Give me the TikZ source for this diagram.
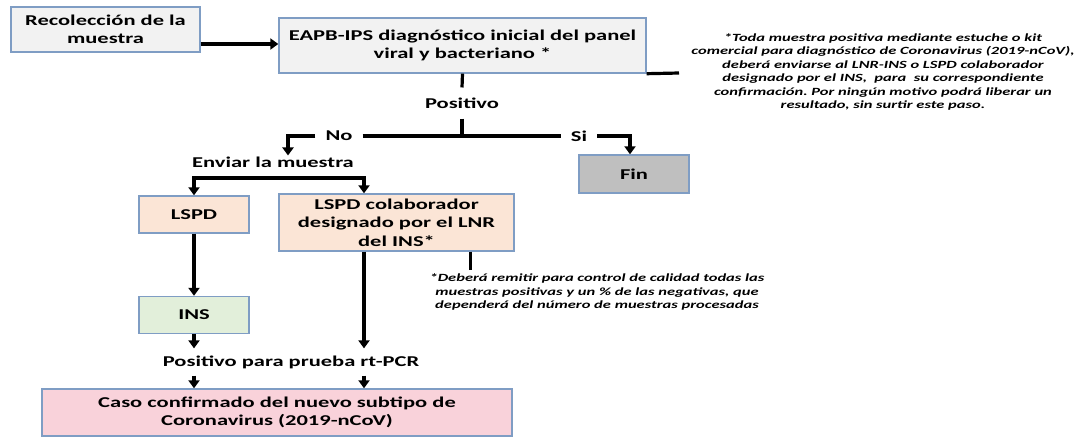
\documentclass[tikz,border=0pt]{standalone}
\usepackage{fontspec}
\setmainfont{Carlito}[FakeStretch=1.5]
\usetikzlibrary{arrows.meta}
\definecolor{boxline}{HTML}{7F9DC4}
\definecolor{grayfill}{HTML}{F2F2F2}
\definecolor{peach}{HTML}{FBE5D6}
\definecolor{mint}{HTML}{E2EFDA}
\definecolor{rose}{HTML}{F9D2DA}
\definecolor{finfill}{HTML}{BFBFBF}
\newcommand{\mainfs}{\fontsize{15}{18.3}\selectfont\bfseries}
\newcommand{\notefs}{\fontsize{11}{13.4}\selectfont\bfseries\itshape}

\begin{document}
\begin{tikzpicture}[x=1pt,y=-1pt,
  box/.style={draw=boxline,line width=1.4pt,align=center,inner sep=1pt,font=\mainfs},
  lbl/.style={inner sep=1pt,font=\mainfs},
  gap/.style={lbl,inner xsep=10pt},
  note/.style={align=center,inner sep=0pt,font=\notefs},
  ln/.style={line width=3.2pt},
  arr/.style={line width=3.2pt,-{Triangle[length=8pt,width=11pt]}},
  dbl/.style={line width=3.2pt,{Triangle[length=8pt,width=11pt]}-{Triangle[length=8pt,width=11pt]}}]
\useasboundingbox (0,0) rectangle (1087,437);
\path (105.5, 29.5) node[box,fill=grayfill,minimum width=189,minimum height=45] (recol) {Recolección de la\\muestra};
\path (462.5, 45.5) node[box,fill=grayfill,minimum width=367,minimum height=55] (eapb)  {EAPB-IPS diagnóstico inicial del panel\\viral y bacteriano *};
\path (462, 103)    node[lbl,inner ysep=10pt] (pos) {Positivo};
\path (339, 136)    node[gap] (no) {No};
\path (579, 136)    node[gap] (si) {Si};
\path (273, 162)    node[lbl] (enviar) {Enviar la muestra};
\path (634, 174)    node[box,fill=finfill,minimum width=110,minimum height=38] (fin)  {Fin};
\path (194, 214.5)  node[box,fill=peach,minimum width=110,minimum height=37] (lspd)  {LSPD};
\path (396.5, 222.5) node[box,fill=peach,minimum width=235,minimum height=57] (colab) {LSPD colaborador\\designado por el LNR\\del INS*};
\path (194, 315)    node[box,fill=mint,minimum width=110,minimum height=37] (ins)  {INS};
\path (291, 362)    node[lbl,inner ysep=7pt] (rtpcr) {Positivo para prueba rt-PCR};
\path (277, 412.5)  node[box,fill=rose,minimum width=470,minimum height=47] (caso) {Caso confirmado del nuevo subtipo de\\Coronavirus (2019-nCoV)};
\path (883, 72)     node[note] (nota) {*Toda muestra positiva mediante estuche o kit\\comercial para diagnóstico de Coronavirus (2019-nCoV),\\deberá enviarse al LNR-INS o LSPD colaborador\\designado por el INS,\ \ para\ \ su correspondiente\\confirmación.\ Por ningún motivo podrá liberar un\\resultado, sin surtir este paso.};
\path (597, 292)    node[note] (notb) {*Deberá remitir para control de calidad todas las\\muestras positivas y un \% de las negativas, que\\dependerá del número de muestras procesadas};
\coordinate (feed) at (240,44);
\coordinate (side) at (679,73);
\coordinate (junc) at (462,136);
\coordinate (sl)   at (194,178);
\coordinate (sr)   at (364,178);
\draw [arr] (recol.east |- feed) -- (eapb.west |- feed);
\draw [ln] (eapb.south east) -- (side);
\draw [ln] (eapb.south) -- (pos.north);
\draw [ln] (pos.south) -- (junc);
\draw [ln] (no.east) -- (si.west);
\draw [arr] (no.west) -| ([xshift=15pt]enviar.north);
\draw [arr] (si.east) -| ([xshift=-4pt]fin.north);
\draw [dbl] (lspd.north) -- (sl) -- (sr) -- (sr |- colab.north);
\draw [arr] (lspd.south) -- (ins.north);
\draw [arr] (colab.south -| sr) -- (rtpcr.north -| sr);
\draw [ln,shorten >=4pt] ([xshift=-44pt]colab.south east) -- ([xshift=-44pt]colab.south east |- notb.north);
\draw [arr] (ins.south) -- (rtpcr.north -| ins.south);
\draw [arr] (rtpcr.south -| ins.south) -- (caso.north -| ins.south);
\draw [arr] (rtpcr.south -| sr) -- (caso.north -| sr);
\end{tikzpicture}
\end{document}
